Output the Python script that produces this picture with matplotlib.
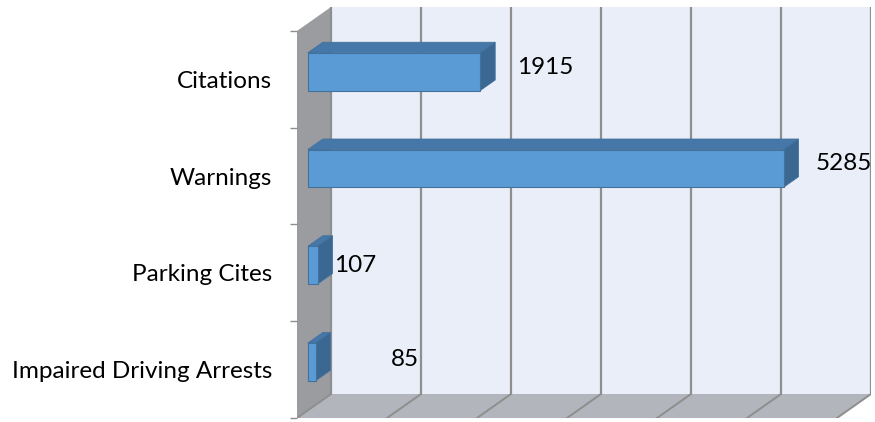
import matplotlib
matplotlib.use("Agg")
import matplotlib.pyplot as plt
from matplotlib.patches import Polygon, Rectangle

# ---- data (bottom to top) ----
categories = ["Impaired Driving Arrests", "Parking Cites", "Warnings", "Citations"]
values = [85, 107, 5285, 1915]
x_max = 6000
x_step = 1000

# ---- style ----
W, H, DPI = 875, 422, 100
FONT = "Lato"
FS = 17.5
DX = 377.8   # depth offset in value units
DY = 0.248   # depth offset in category units
F1, F2 = 0.32, 0.76  # bar front/back depth fractions
BAR_H = 0.39
label_dx_px = [75, 17, 32, 37]
label_dy_px = [2, 0, 5, 4]

fig = plt.figure(figsize=(W / DPI, H / DPI), dpi=DPI)
ax = fig.add_axes([297 / W, 4 / H, 574 / W, 411 / H])
n = len(categories)
y0, y1 = -0.5, n - 0.5
ax.set_xlim(0, x_max + DX)
ax.set_ylim(y0, y1 + DY)
for s in ax.spines.values():
    s.set_visible(False)

# back wall
ax.add_patch(Rectangle((DX, y0 + DY), x_max, n, facecolor="#EAEEF9",
                       edgecolor="none", zorder=1))
# side wall
ax.add_patch(Polygon([(0, y0), (DX, y0 + DY), (DX, y1 + DY), (0, y1)],
                     closed=True, facecolor="#9A9CA0", edgecolor="none", zorder=1))
# floor
ax.add_patch(Polygon([(0, y0), (DX, y0 + DY), (x_max + DX, y0 + DY), (x_max, y0)],
                     closed=True, facecolor="#B2B5BB", edgecolor="none", zorder=1))

# gridlines on back wall and floor
for v in range(0, x_max + 1, x_step):
    ax.plot([v + DX, v + DX], [y0 + DY, y1 + DY], color="#8E8E8E", lw=1.6,
            zorder=2, solid_capstyle="butt")
    ax.plot([v, v + DX], [y0, y0 + DY], color="#8E8E8E", lw=1.4, zorder=2)

# bars
front_c, top_c, side_c, edge_c = "#5B9BD5", "#4577A9", "#3B6893", "#41719C"
for i, v in enumerate(values):
    yb = i - BAR_H / 2
    yt = i + BAR_H / 2
    ax.barh(i + F1 * DY, v, height=BAR_H, left=F1 * DX, color=front_c,
            edgecolor=edge_c, linewidth=0.8, zorder=5)
    top = [(F1 * DX, yt + F1 * DY), (v + F1 * DX, yt + F1 * DY),
           (v + F2 * DX, yt + F2 * DY), (F2 * DX, yt + F2 * DY)]
    ax.add_patch(Polygon(top, closed=True, facecolor=top_c, edgecolor=edge_c,
                         linewidth=0.6, zorder=4))
    side = [(v + F1 * DX, yb + F1 * DY), (v + F1 * DX, yt + F1 * DY),
            (v + F2 * DX, yt + F2 * DY), (v + F2 * DX, yb + F2 * DY)]
    ax.add_patch(Polygon(side, closed=True, facecolor=side_c, edgecolor=edge_c,
                         linewidth=0.6, zorder=4))
    ax.annotate(f"{v}", xy=(v + F1 * DX, i + F1 * DY),
                xytext=(label_dx_px[i] * 0.72, label_dy_px[i] * 0.72),
                textcoords="offset points", ha="left", va="center",
                fontsize=FS, family=FONT, color="black", zorder=6,
                annotation_clip=False)

# category axis
ax.set_yticks(range(n))
ax.set_yticklabels(categories, fontsize=FS, family=FONT)
ax.tick_params(axis="y", which="major", length=0, pad=18)
ax.set_yticks([k - 0.5 for k in range(n + 1)], minor=True)
ax.tick_params(axis="y", which="minor", length=5, width=1, color="#8E8E8E",
               direction="out")
ax.set_xticks([])

fig.savefig("out.png", dpi=DPI)
